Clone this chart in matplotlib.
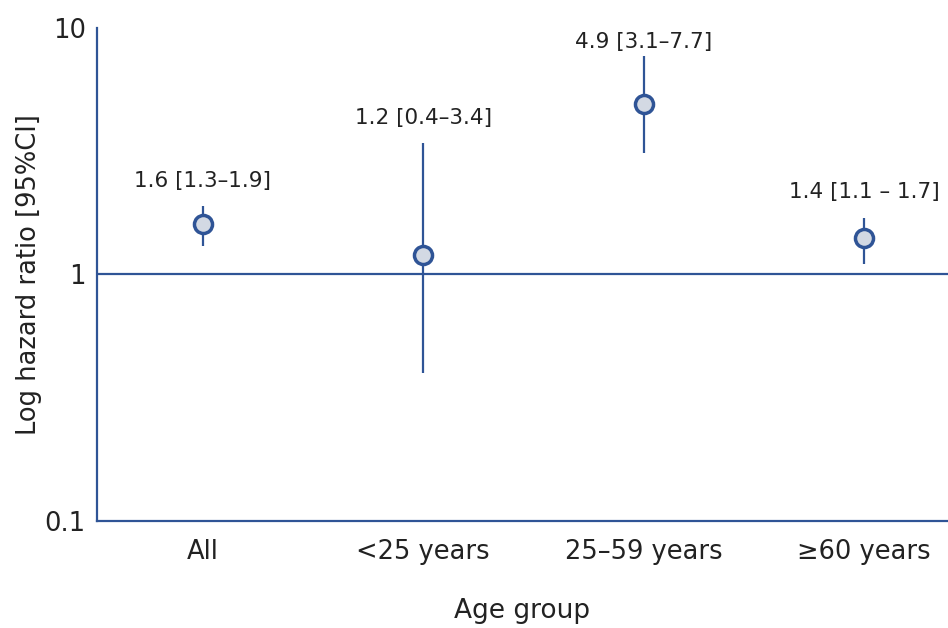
import numpy as np
import matplotlib.pyplot as plt

# Hazard ratios by age group
groups = ["All", "<25 years", "25\u201359 years", "\u226560 years"]
hr = [1.6, 1.2, 4.9, 1.4]
ci_low = [1.3, 0.4, 3.1, 1.1]
ci_high = [1.9, 3.4, 7.7, 1.7]
labels = ["1.6 [1.3\u20131.9]", "1.2 [0.4\u20133.4]", "4.9 [3.1\u20137.7]", "1.4 [1.1 \u2013 1.7]"]

blue = "#2F5496"
fill = "#D3D9E3"
txt = "#222222"

plt.rcParams['font.family'] = ['DejaVu Sans']

fig = plt.figure(figsize=(9.48, 6.28), dpi=100)
ax = fig.add_axes([0.1023, 0.1704, 0.8977, 0.785])

x = np.arange(len(groups))
yerr = [np.array(hr) - np.array(ci_low), np.array(ci_high) - np.array(hr)]

ax.axhline(1, color=blue, lw=1.6, zorder=1)
ax.errorbar(x, hr, yerr=yerr, fmt='o', color=blue, ecolor=blue, elinewidth=1.6,
            capsize=0, ms=13, mfc=fill, mec=blue, mew=2.5, zorder=3)

# label sits a little closer to the top bar for the 25-59 group
offsets = [11, 11, 3, 11]
for xi, top, lab, off in zip(x, ci_high, labels, offsets):
    ax.annotate(lab, (xi, top), xytext=(0, off), textcoords='offset points',
                ha='center', va='bottom', fontsize=15.5, color=txt)

ax.set_yscale('log')
ax.set_ylim(0.1, 10)
ax.set_xlim(-0.48, 3.38)
ax.set_yticks([0.1, 1, 10])
ax.set_yticklabels(["0.1", "1", "10"])
ax.minorticks_off()
ax.set_xticks(x)
ax.set_xticklabels(groups)

ax.tick_params(axis='both', length=0, labelsize=18.5, colors=txt)
ax.tick_params(axis='x', pad=13)
ax.tick_params(axis='y', pad=8)

for s in ['top', 'right']:
    ax.spines[s].set_visible(False)
for s in ['left', 'bottom']:
    ax.spines[s].set_color(blue)
    ax.spines[s].set_linewidth(1.6)

ax.set_ylabel("Log hazard ratio [95%CI]", fontsize=18.5, color=txt, labelpad=2)
ax.set_xlabel("Age group", fontsize=19, color=txt, labelpad=24)

plt.savefig("out.png", dpi=100)
